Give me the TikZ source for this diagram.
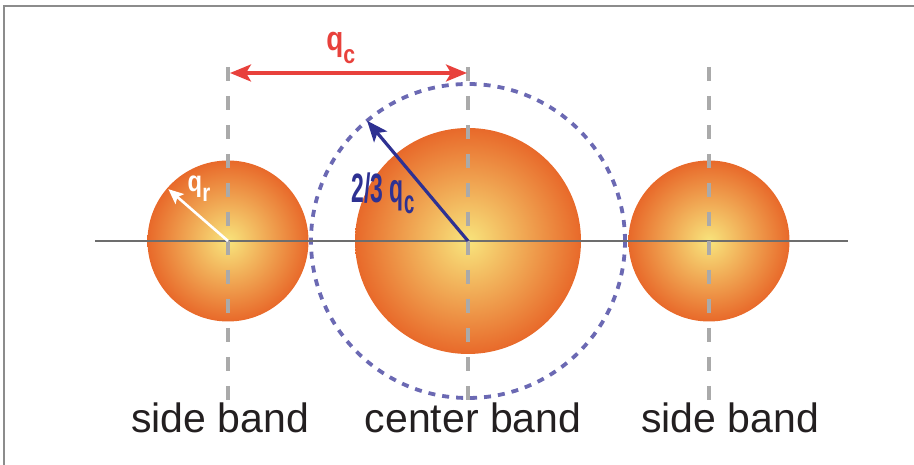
\documentclass[tikz,border=0pt]{standalone}
\usepackage{fontspec}
\setmainfont{Liberation Sans}
\usepackage{graphicx}
\usetikzlibrary{arrows.meta,positioning}
\definecolor{bandred}{HTML}{E8413C}
\definecolor{radnavy}{HTML}{2E3192}
\definecolor{dotblue}{HTML}{6B69B3}
\definecolor{guidegray}{HTML}{AAAAAA}
\definecolor{axisgray}{HTML}{6D6D6D}
\definecolor{framegray}{HTML}{8C8C8C}
\definecolor{sphin}{HTML}{F8E47C}
\definecolor{sphout}{HTML}{E8692A}
\definecolor{textblack}{HTML}{231F20}

\begin{document}
\begin{tikzpicture}[x=1pt, y=1pt,
        sphere/.style={circle, draw=none, inner sep=0pt, inner color=sphin, outer color=sphout},
        guide/.style={draw=guidegray, line width=3.5pt, dash pattern=on 14pt off 15pt},
        axis/.style={draw=axisgray, line width=2.8pt},
        lab/.style={anchor=base, font=\fontsize{41}{48}\selectfont, text=textblack},
        arr/.style={line width=3.2pt, -{Stealth[length=21pt, width=17pt, inset=5pt]}},
        dblarr/.style={line width=3.2pt, {Stealth[length=21pt, width=17pt, inset=5pt]}-{Stealth[length=21pt, width=17pt, inset=5pt]}}]
        \useasboundingbox (0,0) rectangle (914,465);
        \draw[framegray, line width=2pt] (4,0) -- (4,459) -- (914,459);
        % spheres
        \node[sphere, minimum size=161] (ls) at (228,224) {};
        \node[sphere, minimum size=226] (cs) at (468,224) {};
        \node[sphere, minimum size=161] (rs) at (709,224) {};
        \draw[dotblue, line width=3.8pt, dash pattern=on 7pt off 7pt] (cs.center) circle (157);
        % axis and guides
        \coordinate (axl) at (95,224);
        \coordinate (axr) at (848,224);
        \draw[axis] (axl) -- (axr);
        \foreach \x/\n in {228/l, 468/c, 709/r} {
          \coordinate (\n top) at (\x,398);
          \coordinate (\n bot) at (\x,62);
          \draw[guide] (\n top) -- (\n bot);
        }
        % separation
        \coordinate (lq) at (228,392);
        \coordinate (cq) at (468,392);
        \draw[dblarr, bandred, shorten <=2pt, shorten >=1pt] (lq) -- (cq)
          node[pos=0.47, above=4pt, text=bandred, font=\fontsize{34}{34}\selectfont\bfseries] (qc)
          {\scalebox{0.82}[1]{q\raisebox{-13pt}{\fontsize{26}{26}\selectfont c}}};
        % radii
        \coordinate (rim) at ([shift={(130:157)}]cs.center);
        \draw[arr, radnavy] (cs.center) -- (rim);
        \node[text=radnavy, font=\fontsize{41}{41}\selectfont\bfseries] (twothirds) at (383,272)
          {\scalebox{0.56}[1]{2/3 q\raisebox{-11pt}{\fontsize{33}{33}\selectfont c}}};
        \coordinate (lrim) at ([shift={(139:79)}]ls.center);
        \draw[white, line width=2.6pt, -{Stealth[length=15pt, width=13pt, inset=3pt]}] (ls.center) -- (lrim);
        \node[text=white, font=\fontsize{29}{29}\selectfont\bfseries] (qr) at (199,276)
          {\scalebox{0.82}[1]{q\raisebox{-10pt}{\fontsize{25}{25}\selectfont r}}};
        % band names
        \node[lab] (lband) at (220,32) {side band};
        \node[lab] (cband) at (473,32) {center band};
        \node[lab] (rband) at (730,32) {side band};
      \end{tikzpicture}
\end{document}
